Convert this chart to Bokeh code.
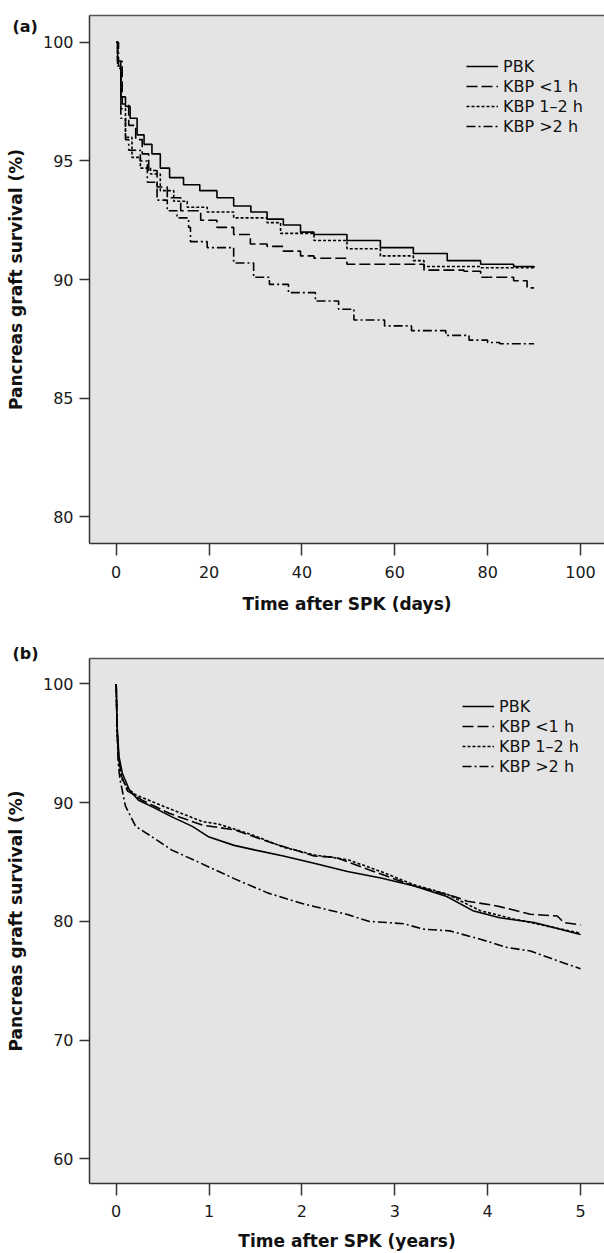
from bokeh.plotting import figure
from bokeh.models import Range1d, Legend, LegendItem, FixedTicker, LinearAxis
from bokeh.layouts import column
from bokeh.embed import file_html
from bokeh.resources import INLINE

# ---------------- data ----------------
groups = ["PBK", "KBP <1 h", "KBP 1\u20132 h", "KBP >2 h"]

# Panel (a): first 90 days (Kaplan-Meier, %)
a_pbk_t = [0, 0.3, 1.0, 2.0, 3.0, 4.5, 6.0, 7.7, 9.5, 11.5, 14.5, 18.0, 21.7, 25.3, 29.0,
           32.5, 36.0, 39.7, 42.6, 49.7, 56.9, 64.0, 71.3, 78.5, 85.6, 90.0]
a_pbk_s = [100, 99.2, 97.7, 97.3, 96.8, 96.1, 95.7, 95.3, 94.7, 94.3, 94.0, 93.75, 93.45, 93.1, 92.85,
           92.55, 92.3, 92.0, 91.9, 91.65, 91.35, 91.1, 90.8, 90.65, 90.55, 90.5]

a_lt1_t = [0, 0.3, 1.3, 2.7, 4.2, 5.6, 7.0, 8.8, 11.0, 13.9, 18.2, 21.7, 25.3, 28.9, 32.5,
           36.0, 39.7, 42.6, 49.7, 66.3, 74.9, 78.5, 85.6, 88.5, 90.0]
a_lt1_s = [100, 99.2, 97.4, 96.5, 95.9, 95.3, 94.6, 93.9, 93.45, 92.9, 92.5, 92.2, 91.9, 91.5, 91.4,
           91.2, 91.0, 90.9, 90.65, 90.4, 90.35, 90.1, 89.95, 89.65, 89.65]

a_12_t = [0, 0.3, 1.0, 2.0, 3.4, 5.2, 7.4, 9.5, 12.4, 15.3, 19.6, 25.3, 32.5, 35.4, 42.6,
          49.7, 56.9, 64.0, 66.3, 78.5, 90.0]
a_12_s = [100, 99.0, 97.2, 96.0, 95.15, 94.7, 94.45, 93.75, 93.3, 93.05, 92.85, 92.6, 92.4, 91.95, 91.65,
          91.3, 91.0, 90.8, 90.55, 90.5, 90.45]

a_gt2_t = [0, 0.5, 1.0, 2.0, 2.7, 5.2, 6.7, 8.8, 11.0, 13.1, 15.6, 16.0, 19.6, 25.3, 29.6,
           33.0, 37.1, 42.9, 47.9, 51.2, 57.8, 63.6, 71.0, 76.0, 80.0, 82.6, 90.0]
a_gt2_s = [100, 98.9, 96.8, 95.9, 95.45, 95.0, 94.1, 93.35, 92.9, 92.6, 92.2, 91.6, 91.35, 90.7, 90.1,
           89.8, 89.45, 89.1, 88.75, 88.3, 88.05, 87.85, 87.65, 87.45, 87.35, 87.3, 87.3]

# Panel (b): five years (%)
b_pbk_t = [0, 0.01, 0.03, 0.065, 0.14, 0.24, 0.4, 0.6, 0.82, 1.0, 1.27, 1.5, 1.8, 2.13, 2.49,
           2.85, 3.2, 3.56, 3.84, 4.13, 4.5, 4.75, 5.0]
b_pbk_s = [100, 96.4, 93.9, 92.5, 91.1, 90.2, 89.6, 88.8, 88.0, 87.1, 86.4, 86.0, 85.5, 84.9, 84.2,
           83.65, 83.0, 82.1, 80.9, 80.3, 79.9, 79.4, 78.9]

b_lt1_t = [0, 0.01, 0.03, 0.06, 0.12, 0.28, 0.57, 0.93, 1.28, 1.64, 1.97, 2.13, 2.36, 2.67, 2.95,
           3.2, 3.64, 3.78, 4.1, 4.46, 4.75, 4.82, 5.0]
b_lt1_s = [100, 96.0, 93.5, 92.2, 91.0, 90.2, 89.1, 88.1, 87.7, 86.7, 85.9, 85.5, 85.4, 84.5, 83.7,
           83.0, 82.1, 81.7, 81.3, 80.6, 80.45, 79.9, 79.7]

b_12_t = [0, 0.01, 0.03, 0.06, 0.12, 0.21, 0.57, 0.93, 1.1, 1.46, 1.8, 2.13, 2.49, 2.85, 3.2,
          3.56, 3.92, 4.28, 4.64, 5.0]
b_12_s = [100, 95.8, 93.2, 92.0, 91.2, 90.65, 89.5, 88.4, 88.2, 87.3, 86.25, 85.6, 85.2, 84.2, 83.1,
          82.3, 80.9, 80.2, 79.6, 79.0]

b_gt2_t = [0, 0.01, 0.02, 0.04, 0.1, 0.21, 0.39, 0.6, 0.91, 1.27, 1.63, 2.0, 2.48, 2.72, 3.1,
           3.3, 3.59, 3.92, 4.21, 4.46, 4.71, 5.0]
b_gt2_s = [100, 96.5, 93.5, 92.0, 89.7, 88.0, 87.1, 86.0, 84.9, 83.6, 82.4, 81.5, 80.6, 80.0, 79.8,
           79.35, 79.2, 78.5, 77.8, 77.5, 76.8, 76.0]

a_xticks = [0, 20, 40, 60, 80, 100]
a_yticks = [80, 85, 90, 95, 100]
b_xticks = [0, 1, 2, 3, 4, 5]
b_yticks = [60, 70, 80, 90, 100]

# ---------------- styling ----------------
DASHES = ["solid", "11 4", "3 2", "9 3 2 3"]
FONT = "DejaVu Sans"


def make_panel(series, step, xr, yr, xticks, yticks, xlabel, tag, tag_standoff, height,
               bottom, label_standoff, title_standoff, legend_x):
    p = figure(width=604, height=height, output_backend="svg", toolbar_location=None,
               x_range=Range1d(*xr), y_range=Range1d(*yr),
               min_border_left=89, min_border_right=0, min_border_top=15,
               min_border_bottom=bottom)
    p.background_fill_color = "#e4e4e4"
    p.border_fill_color = "white"
    p.outline_line_color = None
    p.xgrid.visible = False
    p.ygrid.visible = False

    for ax in (p.xaxis[0], p.yaxis[0]):
        ax.axis_line_color = "#333333"
        ax.axis_line_width = 1.5
        ax.major_tick_line_color = "#333333"
        ax.major_tick_line_width = 1.5
        ax.major_tick_in = 0
        ax.minor_tick_line_color = None
        ax.major_label_text_font = FONT
        ax.major_label_text_font_size = "16px"
        ax.major_label_text_color = "#1a1a1a"
        ax.axis_label_text_font = FONT
        ax.axis_label_text_font_size = "17px"
        ax.axis_label_text_font_style = "bold"
        ax.axis_label_text_color = "#111111"

    p.xaxis.ticker = FixedTicker(ticks=xticks)
    p.yaxis.ticker = FixedTicker(ticks=yticks)
    p.xaxis.major_tick_out = 12
    p.yaxis.major_tick_out = 10
    p.xaxis.major_label_standoff = label_standoff
    p.yaxis.major_label_standoff = 6
    p.xaxis.axis_label = xlabel
    p.yaxis.axis_label = "Pancreas graft survival (%)"
    p.xaxis.axis_label_standoff = title_standoff
    p.yaxis.axis_label_standoff = 14

    # top border of the frame only (the right side runs off the page in the original)
    top = LinearAxis(ticker=FixedTicker(ticks=[]), axis_line_color="#555555", axis_line_width=1.5,
                     major_tick_line_color=None, minor_tick_line_color=None,
                     major_tick_out=0, major_tick_in=0, major_label_standoff=0,
                     major_label_text_font_size="0px")
    p.add_layout(top, "above")

    # panel tag "(a)" / "(b)" as the figure title, pulled to the left of the frame
    p.title.text = tag
    p.title.align = "left"
    p.title.offset = -77
    p.title.standoff = tag_standoff
    p.title.vertical_align = "bottom"
    p.title.text_font = FONT
    p.title.text_font_size = "16px"
    p.title.text_font_style = "bold"
    p.title.text_color = "#111111"

    items = []
    for (t, s), name, dash in zip(series, groups, DASHES):
        if step:
            r = p.step(t, s, mode="after", line_color="black", line_width=1.6, line_dash=dash)
        else:
            r = p.line(t, s, line_color="black", line_width=1.6, line_dash=dash)
        items.append(LegendItem(label=name, renderers=[r]))

    legend = Legend(items=items, location=(legend_x, 407), padding=0, margin=0, spacing=0,
                    glyph_width=32, glyph_height=20, label_height=20, label_standoff=5,
                    label_text_font=FONT, label_text_font_size="16px",
                    label_text_color="#111111",
                    background_fill_alpha=0, border_line_alpha=0)
    p.add_layout(legend)
    return p


p1 = make_panel([(a_pbk_t, a_pbk_s), (a_lt1_t, a_lt1_s), (a_12_t, a_12_s), (a_gt2_t, a_gt2_s)],
                True, (-5.75, 105.17), (78.88, 101.13), a_xticks, a_yticks,
                "Time after SPK (days)", "(a)", -41, 643, 100, 10, 13, 377)

p2 = make_panel([(b_pbk_t, b_pbk_s), (b_lt1_t, b_lt1_s), (b_12_t, b_12_s), (b_gt2_t, b_gt2_s)],
                False, (-0.2875, 5.258), (57.92, 102.14), b_xticks, b_yticks,
                "Time after SPK (years)", "(b)", -8, 610, 67, 9, 11, 373)

layout = column(p1, p2, spacing=0)
open("out.html", "w").write(file_html(layout, INLINE))
